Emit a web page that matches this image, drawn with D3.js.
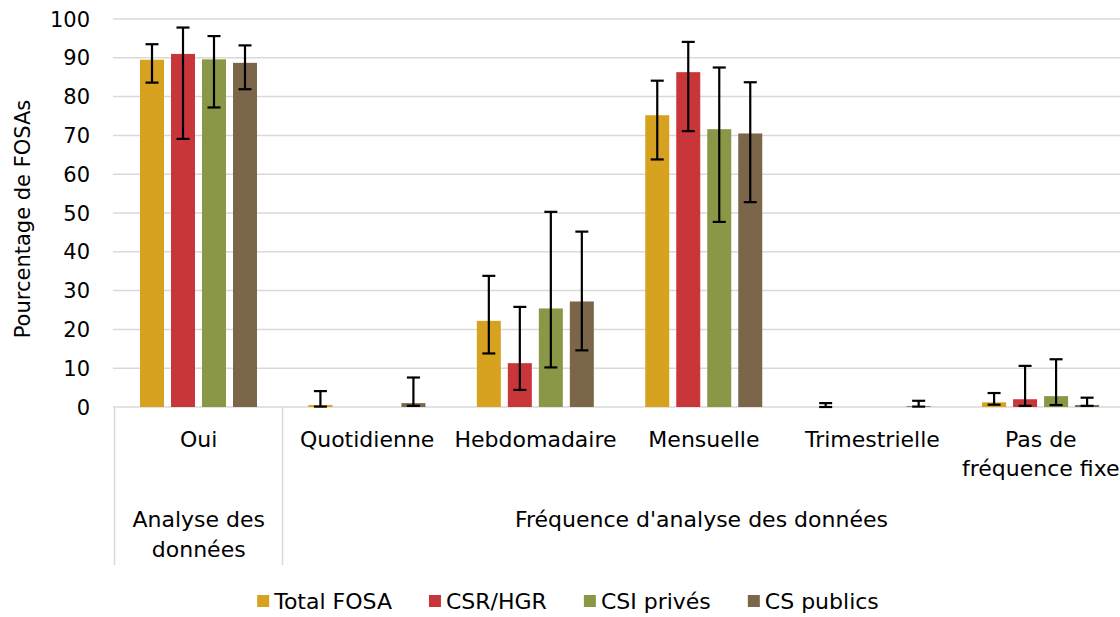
<!DOCTYPE html>
<html><head><meta charset="utf-8">
<script src="https://cdn.jsdelivr.net/npm/d3@7"></script>
<style>
html,body{margin:0;padding:0;background:#fff;}
text{font-family:"DejaVu Sans",sans-serif;fill:#000;}
</style></head>
<body><svg id="c" width="1120" height="617"></svg>
<script>
const categories = ["Oui","Quotidienne","Hebdomadaire","Mensuelle","Trimestrielle","Pas de fréquence fixe"];
const categoryLines = [["Oui"],["Quotidienne"],["Hebdomadaire"],["Mensuelle"],["Trimestrielle"],["Pas de","fréquence fixe"]];
const groups = [{label:["Analyse des","données"], from:0, to:1},{label:["Fréquence d'analyse des données"], from:1, to:6}];
const series = ["Total FOSA","CSR/HGR","CSI privés","CS publics"];
const colors = ["#D6A220","#C8363A","#8A9747","#7C6649"];
const totalFosa = [89.5, 0.5, 22.2, 75.2, 0, 1.2];
const csrHgr   = [91.0, 0, 11.3, 86.3, 0, 2.0];
const csiPrives = [89.6, 0, 25.4, 71.6, 0, 2.8];
const csPublics = [88.7, 1.0, 27.2, 70.5, 0.2, 0.5];
const totalLow  = [83.6, 0.1, 13.8, 63.8, 0, 0.6];
const totalHigh = [93.5, 4.1, 33.8, 84.1, 1.0, 3.6];
const csrLow  = [69.1, null, 4.4, 71.1, null, 0.3];
const csrHigh = [97.8, null, 25.8, 94.1, null, 10.6];
const csiLow  = [77.2, null, 10.2, 47.7, null, 0.5];
const csiHigh = [95.6, null, 50.3, 87.5, null, 12.3];
const cspLow  = [81.9, 0.3, 14.6, 52.8, 0.1, 0.3];
const cspHigh = [93.2, 7.6, 45.2, 83.7, 1.6, 2.4];
const yTicks = [0,10,20,30,40,50,60,70,80,90,100];

const values = [totalFosa, csrHgr, csiPrives, csPublics];
const lows = [totalLow, csrLow, csiLow, cspLow];
const highs = [totalHigh, csrHigh, csiHigh, cspHigh];

const svg = d3.select("#c");
const y = d3.scaleLinear().domain([0,100]).range([407,19]);
const x0 = d3.scaleBand().domain(categories).range([114.5, 1125]).paddingInner(0).paddingOuter(0);
const x1 = d3.scaleBand().domain(series).range([25.5, 142.5]).paddingInner(7/31).paddingOuter(0);

// gridlines
svg.append("g").selectAll("line").data(yTicks).join("line")
  .attr("x1",113).attr("x2",1120).attr("y1",d=>y(d)).attr("y2",d=>y(d))
  .attr("stroke","#d9d9d9").attr("stroke-width",1.5);

// y tick labels
svg.append("g").selectAll("text").data(yTicks).join("text")
  .attr("x",90).attr("y",d=>y(d)).attr("dy","0.36em").attr("text-anchor","end")
  .style("font-size","21px").text(d=>d);

// y title
svg.append("text").attr("transform","translate(30,219) rotate(-90)").attr("text-anchor","middle")
  .style("font-size","21px").text("Pourcentage de FOSAs");

// category separators
const seps = [0,1,6].map(i => i<6 ? x0(categories[i]) : x0(categories[5])+x0.bandwidth());
svg.append("g").selectAll("line").data(seps).join("line")
  .attr("x1",d=>Math.round(d)-0.5).attr("x2",d=>Math.round(d)-0.5).attr("y1",407).attr("y2",565)
  .attr("stroke","#d9d9d9").attr("stroke-width",1.5);

// bars
const data = [];
categories.forEach((c,ci)=>series.forEach((s,si)=>data.push({c,s,si,v:values[si][ci],lo:lows[si][ci],hi:highs[si][ci]})));
const g = svg.append("g");
g.selectAll("rect").data(data).join("rect")
  .attr("x",d=>x0(d.c)+x1(d.s)).attr("width",x1.bandwidth())
  .attr("y",d=>y(d.v)).attr("height",d=>y(0)-y(d.v))
  .attr("fill",d=>colors[d.si]);

// error bars
const eb = data.filter(d=>d.hi!==null);
const cx = d=>x0(d.c)+x1(d.s)+x1.bandwidth()/2;
const eg = svg.append("g").attr("stroke","#000").attr("stroke-width",2.2);
eg.selectAll("line.v").data(eb).join("line").attr("class","v")
  .attr("x1",cx).attr("x2",cx).attr("y1",d=>y(d.lo)).attr("y2",d=>y(d.hi));
eg.selectAll("line.t").data(eb).join("line").attr("class","t")
  .attr("x1",d=>cx(d)-6.5).attr("x2",d=>cx(d)+6.5).attr("y1",d=>y(d.hi)).attr("y2",d=>y(d.hi));
eg.selectAll("line.b").data(eb).join("line").attr("class","b")
  .attr("x1",d=>cx(d)-6.5).attr("x2",d=>cx(d)+6.5).attr("y1",d=>y(d.lo)).attr("y2",d=>y(d.lo));

// category labels
categories.forEach((c,ci)=>{
  const t = svg.append("text").attr("x",x0(c)+x0.bandwidth()/2).attr("y",447)
    .attr("text-anchor","middle").style("font-size","22px");
  categoryLines[ci].forEach((l,li)=>t.append("tspan").attr("x",x0(c)+x0.bandwidth()/2).attr("dy",li?29:0).text(l));
});
// group labels
groups.forEach(gr=>{
  const a = x0(categories[gr.from]);
  const b = x0(categories[gr.to-1])+x0.bandwidth();
  const cxx = gr.to===6 ? (a+1120)/2 : (a+b)/2;
  const t = svg.append("text").attr("x",cxx).attr("y",527).attr("text-anchor","middle").style("font-size","22px");
  gr.label.forEach((l,li)=>t.append("tspan").attr("x",cxx).attr("dy",li?30:0).text(l));
});

// legend
const lg = svg.append("g");
let xpos = 0;
const gap = 37;
series.forEach((s,i)=>{
  const it = lg.append("g").attr("transform",`translate(${xpos},0)`);
  it.append("rect").attr("x",0).attr("y",-6).attr("width",12).attr("height",12).attr("fill",colors[i]);
  const tx = it.append("text").attr("x",17).attr("y",0).attr("dy","0.36em").style("font-size","22px").text(s);
  const w = tx.node().getComputedTextLength();
  xpos += 17 + w + gap;
});
const totalW = xpos - gap;
lg.attr("transform",`translate(${568-totalW/2},601)`);
</script></body></html>
